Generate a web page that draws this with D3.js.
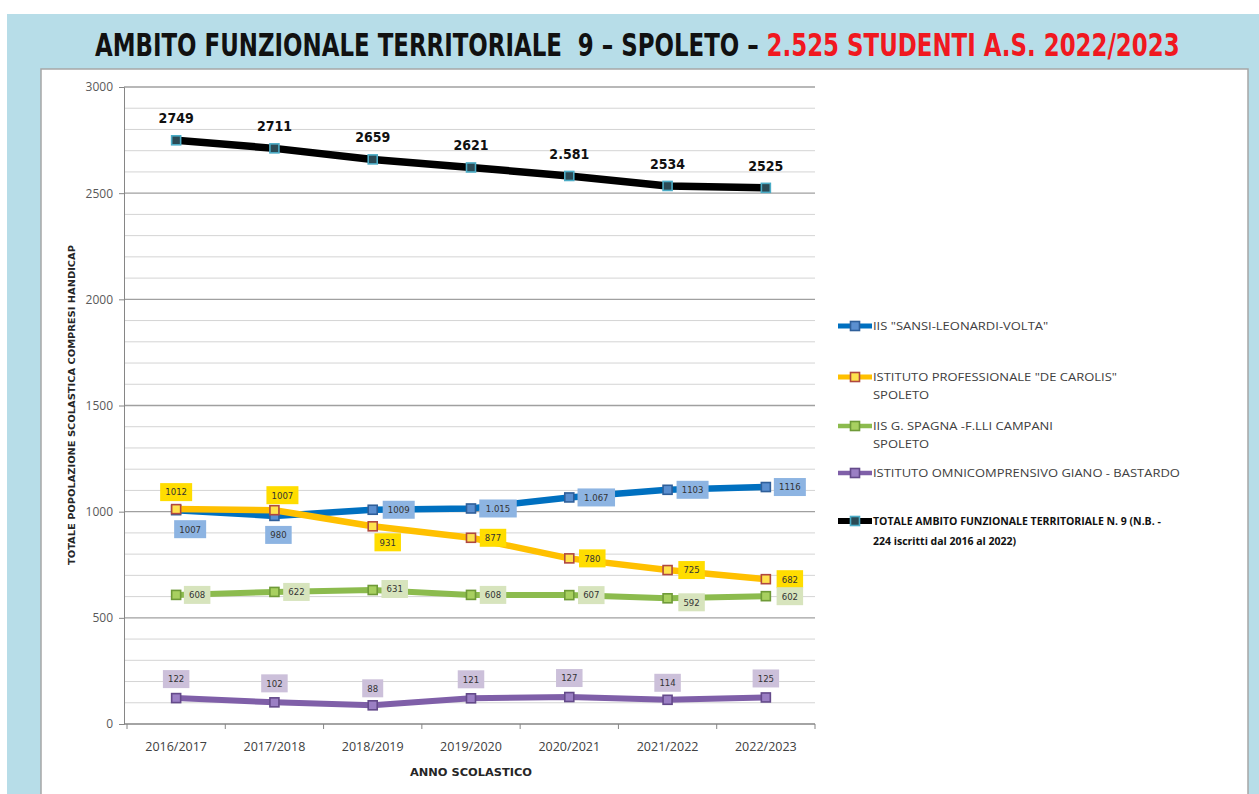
<!DOCTYPE html>
<html>
<head>
<meta charset="utf-8">
<script src="https://cdn.jsdelivr.net/npm/d3@7"></script>
<style>
  body { margin: 0; background: #fff; }
  svg { display: block; }
</style>
</head>
<body>
<div id="chart"></div>
<script>
// data
var years = ["2016/2017", "2017/2018", "2018/2019", "2019/2020", "2020/2021", "2021/2022", "2022/2023"];

var sansi     = [1007, 980, 1009, 1015, 1067, 1103, 1116];
var decarolis = [1012, 1007, 931, 877, 780, 725, 682];
var spagna    = [608, 622, 631, 608, 607, 592, 602];
var giano     = [122, 102, 88, 121, 127, 114, 125];
var totale    = [2749, 2711, 2659, 2621, 2581, 2534, 2525];

// labels as printed in the source chart
var sansiLabels     = ["1007", "980", "1009", "1.015", "1.067", "1103", "1116"];
var decarolisLabels = ["1012", "1007", "931", "877", "780", "725", "682"];
var spagnaLabels    = ["608", "622", "631", "608", "607", "592", "602"];
var gianoLabels     = ["122", "102", "88", "121", "127", "114", "125"];
var totaleLabels    = ["2749", "2711", "2659", "2621", "2.581", "2534", "2525"];

var yTicks = [0, 500, 1000, 1500, 2000, 2500, 3000];

// svg size
var width = 1259, height = 794;

var svg = d3.select("#chart")
            .append("svg")
            .attr("width", width)
            .attr("height", height);

// blue frame + white panel
svg.append("rect")
    .attr("x", 7).attr("y", 14)
    .attr("width", width - 7).attr("height", height - 14)
    .attr("fill", "#b7dde8");

svg.append("rect")
    .attr("x", 41).attr("y", 69)
    .attr("width", 1207).attr("height", height)
    .attr("fill", "#fff")
    .attr("stroke", "#a6a6a6")
    .attr("stroke-width", 1.5);

// title
var title = svg.append("text")
    .attr("x", 0).attr("y", 56)
    .attr("font-family", "DejaVu Sans Condensed, DejaVu Sans")
    .attr("font-weight", "bold")
    .attr("font-size", 32);

title.append("tspan").attr("fill", "#111").text("AMBITO FUNZIONALE TERRITORIALE\u00a0\u00a09 \u2013 SPOLETO \u2013 ");
title.append("tspan").attr("fill", "#f01820").text("2.525 STUDENTI A.S. 2022/2023");

var tw = title.node().getComputedTextLength();
title.attr("transform", "translate(95,0) scale(" + (1085 / tw) + ",1)");

// scales
var x = d3.scaleBand()
            .domain(years)
            .range([127, 815]);

var y = d3.scaleLinear()
            .domain([0, 3000])
            .range([724, 87]);

function cx(i){ return x(years[i]) + x.bandwidth() / 2; }

// grid
svg.append("g")
    .selectAll("line")
    .data(d3.range(100, 3001, 100))
    .enter()
        .append("line")
        .attr("x1", 124).attr("x2", 815)
        .attr("y1", function(d){ return y(d); })
        .attr("y2", function(d){ return y(d); })
        .attr("stroke", function(d){ return d % 500 == 0 ? "#a0a0a0" : "#d4d4d4"; })
        .attr("stroke-width", function(d){ return d % 500 == 0 ? 1.3 : 1; });

// y axis
var yAxis = svg.append("g")
    .attr("transform", "translate(124,0)")
    .call(d3.axisLeft(y).tickValues(yTicks).tickSize(5).tickPadding(6).tickFormat(d3.format("d")));

yAxis.select(".domain").attr("stroke", "#868686");
yAxis.selectAll(".tick line").attr("stroke", "#868686");
yAxis.selectAll("text")
    .attr("font-family", "Open Sans")
    .attr("font-size", 12)
    .attr("fill", "#595959");

// x axis
var xAxis = svg.append("g")
    .attr("transform", "translate(0,724)");

xAxis.append("line")
    .attr("x1", 124).attr("x2", 815)
    .attr("stroke", "#868686").attr("stroke-width", 1.3);

xAxis.selectAll(".xt")
    .data(years.concat(["end"]))
    .enter()
        .append("line")
        .attr("class", "xt")
        .attr("x1", function(d, i){ return i < years.length ? x(d) : 815; })
        .attr("x2", function(d, i){ return i < years.length ? x(d) : 815; })
        .attr("y1", 0).attr("y2", 5)
        .attr("stroke", "#868686");

xAxis.selectAll(".xl")
    .data(years)
    .enter()
        .append("text")
        .attr("class", "xl")
        .attr("x", function(d, i){ return cx(i); })
        .attr("y", 27)
        .attr("text-anchor", "middle")
        .attr("font-family", "Open Sans")
        .attr("font-size", 12.5)
        .attr("fill", "#404040")
        .text(function(d){ return d; });

// axis titles
svg.append("text")
    .attr("x", 471).attr("y", 776)
    .attr("text-anchor", "middle")
    .attr("font-family", "DejaVu Sans Condensed, DejaVu Sans")
    .attr("font-weight", "bold")
    .attr("font-size", 11)
    .attr("fill", "#262626")
    .attr("textLength", 122)
    .attr("lengthAdjust", "spacingAndGlyphs")
    .text("ANNO SCOLASTICO");

svg.append("text")
    .attr("transform", "translate(75,405) rotate(-90)")
    .attr("text-anchor", "middle")
    .attr("font-family", "DejaVu Sans Condensed, DejaVu Sans")
    .attr("font-weight", "bold")
    .attr("font-size", 9.5)
    .attr("fill", "#262626")
    .attr("textLength", 320)
    .attr("lengthAdjust", "spacingAndGlyphs")
    .text("TOTALE POPOLAZIONE SCOLASTICA COMPRESI HANDICAP");

// series
var series = [
    { name: ["IIS \"SANSI-LEONARDI-VOLTA\""], values: sansi, labels: sansiLabels,
      color: "#0070c0", mfill: "#5b8fd0", mstroke: "#2f5f9a", box: "#8db4e2", lw: 6.5,
      place: [[14, 19], [4, 19], [26, 0], [27, 0], [27, 0], [25, 0], [24, 0]] },
    { name: ["ISTITUTO PROFESSIONALE \"DE CAROLIS\"", "SPOLETO"], values: decarolis, labels: decarolisLabels,
      color: "#ffc000", mfill: "#ffe24d", mstroke: "#b0483f", box: "#ffdd00", lw: 6.5,
      place: [[0, -17], [8, -15], [15, 16], [22, 0], [23, 0], [24, 0], [24, 0]] },
    { name: ["IIS G. SPAGNA -F.LLI CAMPANI", "SPOLETO"], values: spagna, labels: spagnaLabels,
      color: "#8cbb4e", mfill: "#a8d060", mstroke: "#6f9a38", box: "#d7e4bd", lw: 6,
      place: [[21, 0], [22, 0], [22, -1], [22, 0], [22, 0], [24, 4], [24, 0]] },
    { name: ["ISTITUTO OMNICOMPRENSIVO GIANO - BASTARDO"], values: giano, labels: gianoLabels,
      color: "#7f5fa8", mfill: "#9b7fc4", mstroke: "#644a8a", box: "#ccc0da", lw: 6,
      place: [[0, -19], [0, -19], [0, -17], [0, -19], [0, -19], [0, -17], [0, -19]] },
    { name: ["TOTALE AMBITO FUNZIONALE TERRITORIALE N. 9 (N.B. -", "224  iscritti dal 2016 al 2022)"], values: totale, labels: totaleLabels,
      color: "#000", mfill: "#2b4a55", mstroke: "#4bacc6", box: null, lw: 7.5,
      place: [[0, -22], [0, -22], [0, -22], [0, -22], [0, -22], [0, -22], [0, -22]] }
];

var line = d3.line()
            .x(function(d, i){ return cx(i); })
            .y(function(d){ return y(d); });

var groups = svg.selectAll(".series")
    .data(series)
    .enter()
        .append("g")
        .attr("class", "series");

groups.append("path")
    .attr("d", function(s){ return line(s.values); })
    .attr("fill", "none")
    .attr("stroke", function(s){ return s.color; })
    .attr("stroke-width", function(s){ return s.lw; })
    .attr("stroke-linejoin", "round");

groups.each(function(s){
    var g = d3.select(this);

    // markers
    g.selectAll("rect.m")
        .data(s.values)
        .enter()
            .append("rect")
            .attr("class", "m")
            .attr("x", function(d, i){ return cx(i) - 4.5; })
            .attr("y", function(d){ return y(d) - 4.5; })
            .attr("width", 9).attr("height", 9)
            .attr("fill", s.mfill)
            .attr("stroke", s.mstroke)
            .attr("stroke-width", 1.6);

    // data labels
    var lab = g.selectAll("g.lab")
        .data(s.values)
        .enter()
            .append("g")
            .attr("class", "lab")
            .attr("transform", function(d, i){
                return "translate(" + (cx(i) + s.place[i][0]) + "," + (y(d) + s.place[i][1]) + ")";
            });

    if (s.box){
        lab.append("rect")
            .attr("x", function(d, i){ return -(s.labels[i].length * 5.5 + 10) / 2; })
            .attr("y", -9)
            .attr("width", function(d, i){ return s.labels[i].length * 5.5 + 10; })
            .attr("height", 18)
            .attr("fill", s.box);

        lab.append("text")
            .attr("text-anchor", "middle")
            .attr("dy", "0.35em")
            .attr("font-family", "DejaVu Sans Condensed, DejaVu Sans")
            .attr("font-size", 9.5)
            .attr("fill", "#333")
            .text(function(d, i){ return s.labels[i]; });
    } else {
        lab.append("text")
            .attr("text-anchor", "middle")
            .attr("dy", "0.35em")
            .attr("font-family", "DejaVu Sans Condensed, DejaVu Sans")
            .attr("font-weight", "bold")
            .attr("font-size", 14)
            .attr("fill", "#111")
            .text(function(d, i){ return s.labels[i]; });
    }
});

// legend
var legendY = [326, 377, 426, 473, 521];

var legend = svg.selectAll(".legend")
    .data(series)
    .enter()
        .append("g")
        .attr("class", "legend")
        .attr("transform", function(d, i){ return "translate(838," + legendY[i] + ")"; });

legend.append("line")
    .attr("x1", 0).attr("x2", 34)
    .attr("stroke", function(s){ return s.color; })
    .attr("stroke-width", function(s){ return s.lw - 1.5; });

legend.append("rect")
    .attr("x", 12.5).attr("y", -4.5)
    .attr("width", 9).attr("height", 9)
    .attr("fill", function(s){ return s.mfill; })
    .attr("stroke", function(s){ return s.mstroke; })
    .attr("stroke-width", 1.6);

legend.each(function(s, k){
    var bold = (k == 4);
    var t = d3.select(this).append("text")
        .attr("transform", bold ? null : "translate(35,0) scale(1.18,1)")
        .attr("font-family", "Open Sans")
        .attr("font-size", bold ? 10.5 : 11)
        .attr("font-weight", bold ? "bold" : "normal")
        .attr("fill", bold ? "#111" : "#404040");

    s.name.forEach(function(n, j){
        t.append("tspan")
            .attr("x", bold ? 35 : 0)
            .attr("y", j * (bold ? 20 : 18))
            .attr("dy", "0.35em")
            .text(n);
    });
});
</script>
</body>
</html>
